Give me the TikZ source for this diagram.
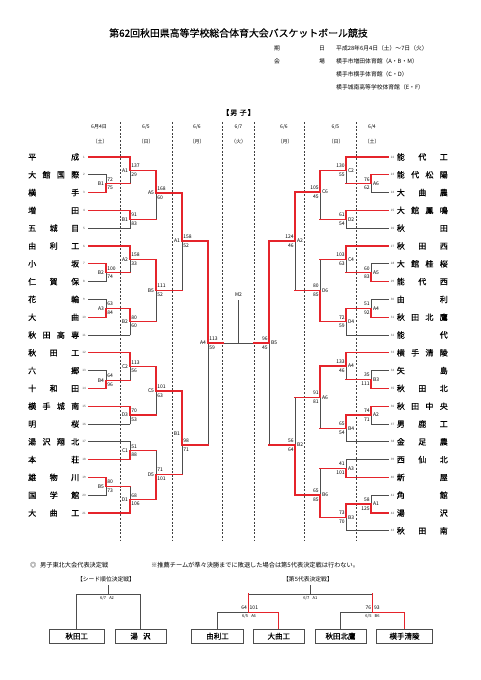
\documentclass[tikz,border=0pt]{standalone}
\usepackage{fontspec}
\setmainfont{Noto Sans CJK JP}
\newfontfamily\boldish{Noto Sans CJK JP}[FakeBold=0.5]
\definecolor{wred}{HTML}{E5242B}
\definecolor{lgray}{HTML}{4D4D4D}
\tikzset{
  win/.style={draw=wred,line width=1.25pt,line cap=rect},
  lose/.style={draw=lgray,line width=0.75pt,line cap=rect},
  sepline/.style={draw=black!75,line width=0.6pt,dash pattern=on 2pt off 1.6pt},
  team/.style={inner sep=0pt,font=\boldish\fontsize{8}{8}\selectfont},
  seedno/.style={inner sep=0pt,font=\fontsize{3}{3}\selectfont,text=black!70},
  mlab/.style={inner sep=0pt,font=\fontsize{5}{5}\selectfont},
  score/.style={inner sep=0pt,font=\fontsize{5}{5}\selectfont},
  head/.style={inner sep=0pt,font=\fontsize{5}{5}\selectfont},
  info/.style={inner sep=0pt,font=\fontsize{5.8}{5.8}\selectfont},
  note/.style={inner sep=0pt,anchor=west,font=\fontsize{6.2}{6.2}\selectfont},
  fbox/.style={draw=lgray,line width=0.8pt,minimum height=14.3pt,inner sep=0pt,fill=white,font=\boldish\fontsize{7.5}{7.5}\selectfont},
  small/.style={inner sep=0pt,font=\fontsize{4}{4}\selectfont},
}
% team on the left: index, y, name
\newcommand{\teamL}[3]{%
  \node[team,anchor=west] (nL#1) at (28,#2) {\makebox[51pt][l]{#3}};
  \node[seedno] (kL#1) at (84,#2) {#1};
  \coordinate (sL#1) at (88.5,#2);
}
\newcommand{\teamR}[3]{%
  \node[team,anchor=east] (nR#1) at (448,#2) {\makebox[51pt][l]{#3}};
  \node[seedno] (kR#1) at (392.5,#2) {#1};
  \coordinate (sR#1) at (388.5,#2);
}
% match: name, x, ytop, ybot, yout, winner(t/b), label, top score, bottom score
\newcommand{\matchL}[9]{%
  \coordinate (#1) at (#2,#5);
  \coordinate (#1t) at (#2,#3);
  \coordinate (#1b) at (#2,#4);
  \draw[lose] (#1t) -- (#1b);
  \if#6t\draw[win] (#1t) -- (#1);\else\draw[win] (#1b) -- (#1);\fi
  \node[mlab,anchor=east] (#1l) at ([xshift=-1.8pt]#1) {#7};
  \node[score,anchor=west] (#1u) at ([xshift=1.2pt,yshift=4.3pt]#1) {#8};
  \node[score,anchor=west] (#1d) at ([xshift=1.2pt,yshift=-4.5pt]#1) {#9};
}
\newcommand{\matchR}[9]{%
  \coordinate (#1) at (#2,#5);
  \coordinate (#1t) at (#2,#3);
  \coordinate (#1b) at (#2,#4);
  \draw[lose] (#1t) -- (#1b);
  \if#6t\draw[win] (#1t) -- (#1);\else\draw[win] (#1b) -- (#1);\fi
  \node[mlab,anchor=west] (#1l) at ([xshift=1.8pt]#1) {#7};
  \node[score,anchor=east] (#1u) at ([xshift=-1.2pt,yshift=4.3pt]#1) {#8};
  \node[score,anchor=east] (#1d) at ([xshift=-1.2pt,yshift=-4.5pt]#1) {#9};
}
\begin{document}
\begin{tikzpicture}[x=1pt,y=-1pt]
\fill[white] (0,0) rectangle (481,680);
\useasboundingbox (0,0) rectangle (481,680);

% title and info
\node[inner sep=0pt,font=\boldish\fontsize{9.9}{9.9}\selectfont] (title) at (238.5,33) {第62回秋田県高等学校総合体育大会バスケットボール競技};
\node[info] (k1) at (277,48) {期};
\node[info] (k2) at (322,48) {日};
\node[info,anchor=west] (v1) at (336,48) {平成28年6月4日（土）～7日（火）};
\node[info] (k3) at (277,61) {会};
\node[info] (k4) at (322,61) {場};
\node[info,anchor=west] (v2) at (336,61) {横手市増田体育館（A・B・M）};
\node[info,anchor=west] (v3) at (336,74) {横手市横手体育館（C・D）};
\node[info,anchor=west] (v4) at (336,87) {横手城南高等学校体育館（E・F）};
\node[inner sep=0pt,font=\boldish\fontsize{7}{7}\selectfont] (sex) at (238.5,112.5) {【\,男\,\,子\,】};

% column headings
\node[head] (d1) at (99,127) {6月4日};  \node[head] (w1) at (100,142) {（土）};
\node[head] (d2) at (146,127) {6/5};   \node[head] (w2) at (146,142) {（日）};
\node[head] (d3) at (197,127) {6/6};   \node[head] (w3) at (197,142) {（月）};
\node[head] (d4) at (238.5,127) {6/7}; \node[head] (w4) at (238.5,142) {（火）};
\node[head] (d5) at (284,127) {6/6};   \node[head] (w5) at (285,142) {（月）};
\node[head] (d6) at (335.5,127) {6/5}; \node[head] (w6) at (336,142) {（日）};
\node[head] (d7) at (372,127) {6/4};   \node[head] (w7) at (372,142) {（土）};

% separators
\foreach \sx in {120,172,222,254,304,356}
  \draw[sepline] (\sx,122) -- (\sx,540);

% teams left
\teamL{1}{157.0}{平\hfill 成}
\teamL{2}{174.8}{大\hfill 館\hfill 国\hfill 際}
\teamL{3}{192.6}{横\hfill 手}
\teamL{4}{210.4}{増\hfill 田}
\teamL{5}{228.2}{五\hfill 城\hfill 目}
\teamL{6}{246.0}{由\hfill 利\hfill 工}
\teamL{7}{263.8}{小\hfill 坂}
\teamL{8}{281.6}{仁\hfill 賀\hfill 保}
\teamL{9}{299.4}{花\hfill 輪}
\teamL{10}{317.2}{大\hfill 曲}
\teamL{11}{335.0}{秋\hfill 田\hfill 高\hfill 専}
\teamL{12}{352.8}{秋\hfill 田\hfill 工}
\teamL{13}{370.6}{六\hfill 郷}
\teamL{14}{388.4}{十\hfill 和\hfill 田}
\teamL{15}{406.2}{横\hfill 手\hfill 城\hfill 南}
\teamL{16}{424.0}{明\hfill 桜}
\teamL{17}{441.8}{湯\hfill 沢\hfill 翔\hfill 北}
\teamL{18}{459.6}{本\hfill 荘}
\teamL{19}{477.4}{雄\hfill 物\hfill 川}
\teamL{20}{495.2}{国\hfill 学\hfill 館}
\teamL{21}{513.0}{大\hfill 曲\hfill 工}

% teams right
\teamR{22}{157.0}{能\hfill 代\hfill 工}
\teamR{23}{174.8}{能\hfill 代\hfill 松\hfill 陽}
\teamR{24}{192.6}{大\hfill 曲\hfill 農}
\teamR{25}{210.4}{大\hfill 館\hfill 鳳\hfill 鳴}
\teamR{26}{228.2}{秋\hfill 田}
\teamR{27}{246.0}{秋\hfill 田\hfill 西}
\teamR{28}{263.8}{大\hfill 館\hfill 桂\hfill 桜}
\teamR{29}{281.6}{能\hfill 代\hfill 西}
\teamR{30}{299.4}{由\hfill 利}
\teamR{31}{317.2}{秋\hfill 田\hfill 北\hfill 鷹}
\teamR{32}{335.0}{能\hfill 代}
\teamR{33}{352.8}{横\hfill 手\hfill 清\hfill 陵}
\teamR{34}{370.6}{矢\hfill 島}
\teamR{35}{388.4}{秋\hfill 田\hfill 北}
\teamR{36}{406.2}{秋\hfill 田\hfill 中\hfill 央}
\teamR{37}{424.0}{男\hfill 鹿\hfill 工}
\teamR{38}{441.8}{金\hfill 足\hfill 農}
\teamR{39}{459.6}{西\hfill 仙\hfill 北}
\teamR{40}{477.4}{新\hfill 屋}
\teamR{41}{495.2}{角\hfill 館}
\teamR{42}{513.0}{湯\hfill 沢}
\teamR{43}{530.8}{秋\hfill 田\hfill 南}

% team lines left
\draw[win]  (sL1)  -- (sL1  -| 130,0);
\draw[lose] (sL2)  -- (sL2  -| 106,0);
\draw[win]  (sL3)  -- (sL3  -| 106,0);
\draw[win]  (sL4)  -- (sL4  -| 130,0);
\draw[lose] (sL5)  -- (sL5  -| 130,0);
\draw[win]  (sL6)  -- (sL6  -| 130,0);
\draw[win]  (sL7)  -- (sL7  -| 106,0);
\draw[lose] (sL8)  -- (sL8  -| 106,0);
\draw[lose] (sL9)  -- (sL9  -| 106,0);
\draw[win]  (sL10) -- (sL10 -| 106,0);
\draw[lose] (sL11) -- (sL11 -| 130,0);
\draw[win]  (sL12) -- (sL12 -| 130,0);
\draw[lose] (sL13) -- (sL13 -| 106,0);
\draw[win]  (sL14) -- (sL14 -| 106,0);
\draw[win]  (sL15) -- (sL15 -| 130,0);
\draw[lose] (sL16) -- (sL16 -| 130,0);
\draw[lose] (sL17) -- (sL17 -| 130,0);
\draw[win]  (sL18) -- (sL18 -| 130,0);
\draw[win]  (sL19) -- (sL19 -| 106,0);
\draw[lose] (sL20) -- (sL20 -| 106,0);
\draw[win]  (sL21) -- (sL21 -| 130,0);

% team lines right
\draw[win]  (sR22) -- (sR22 -| 346,0);
\draw[win]  (sR23) -- (sR23 -| 371,0);
\draw[lose] (sR24) -- (sR24 -| 371,0);
\draw[win]  (sR25) -- (sR25 -| 346,0);
\draw[lose] (sR26) -- (sR26 -| 346,0);
\draw[win]  (sR27) -- (sR27 -| 346,0);
\draw[lose] (sR28) -- (sR28 -| 371,0);
\draw[win]  (sR29) -- (sR29 -| 371,0);
\draw[lose] (sR30) -- (sR30 -| 371,0);
\draw[win]  (sR31) -- (sR31 -| 371,0);
\draw[lose] (sR32) -- (sR32 -| 346,0);
\draw[win]  (sR33) -- (sR33 -| 346,0);
\draw[lose] (sR34) -- (sR34 -| 371,0);
\draw[win]  (sR35) -- (sR35 -| 371,0);
\draw[win]  (sR36) -- (sR36 -| 371,0);
\draw[lose] (sR37) -- (sR37 -| 371,0);
\draw[lose] (sR38) -- (sR38 -| 346,0);
\draw[lose] (sR39) -- (sR39 -| 346,0);
\draw[win]  (sR40) -- (sR40 -| 346,0);
\draw[lose] (sR41) -- (sR41 -| 371,0);
\draw[win]  (sR42) -- (sR42 -| 371,0);
\draw[lose] (sR43) -- (sR43 -| 346,0);

% matches left
\matchL{lB1}{106}{174.8}{192.6}{183.7}{b}{B1}{72}{75}
\matchL{lB2}{106}{263.8}{281.6}{272.7}{t}{B2}{100}{74}
\matchL{lA3}{106}{299.4}{317.2}{308.3}{b}{A3}{63}{84}
\matchL{lB4}{106}{370.6}{388.4}{380.5}{b}{B4}{64}{96}
\matchL{lB5}{106}{477.4}{495.2}{486.3}{t}{B5}{80}{73}
\matchL{lA1}{130}{157.0}{183.7}{170.3}{t}{A1}{137}{29}
\matchL{lB1b}{130}{210.4}{228.2}{219.3}{t}{B1}{91}{83}
\matchL{lA2}{130}{246.0}{272.7}{259.3}{t}{A2}{158}{33}
\matchL{lB2b}{130}{308.3}{335.0}{321.7}{t}{B2}{80}{60}
\matchL{lC2}{130}{352.8}{380.5}{366.6}{t}{C2}{113}{56}
\matchL{lD3}{130}{406.2}{424.0}{415.1}{t}{D3}{70}{53}
\matchL{lC1}{130}{441.8}{459.6}{450.7}{b}{C1}{51}{88}
\matchL{lD1}{130}{486.3}{513.0}{499.7}{b}{D1}{68}{106}
\matchL{lA5}{156}{170.3}{219.3}{193}{t}{A5}{168}{60}
\matchL{lB5b}{156}{259.3}{321.7}{290.5}{t}{B5}{111}{52}
\matchL{lC5}{156}{366.6}{415.1}{391}{t}{C5}{101}{63}
\matchL{lD5}{156}{450.7}{499.7}{474.5}{b}{D5}{71}{101}
\matchL{lA1c}{182}{193}{290.5}{241}{t}{A1}{158}{52}
\matchL{lB1c}{182}{391}{474.5}{445}{t}{}{98}{71}
\node[mlab,anchor=east] (lB1cx) at (180.2,434) {B1};
\matchL{lA4}{208}{241}{445}{343}{t}{A4}{113}{59}

% matches right
\matchR{rA6}{371}{174.8}{192.6}{183.7}{t}{A6}{76}{62}
\matchR{rA5}{371}{263.8}{281.6}{272.7}{b}{A5}{60}{83}
\matchR{rA4}{371}{299.4}{317.2}{308.3}{b}{A4}{51}{92}
\matchR{rB3}{371}{370.6}{388.4}{379.5}{b}{B3}{35}{111}
\matchR{rA2}{371}{406.2}{424.0}{415.1}{t}{A2}{74}{71}
\matchR{rA1}{371}{495.2}{513.0}{504.1}{b}{A1}{58}{125}
\matchR{rC2}{346}{157.0}{183.7}{170.3}{t}{C2}{130}{55}
\matchR{rD2}{346}{210.4}{228.2}{219.3}{t}{D2}{61}{54}
\matchR{rC4}{346}{246.0}{272.7}{259.3}{t}{C4}{103}{63}
\matchR{rD4}{346}{308.3}{335.0}{321.7}{t}{D4}{72}{59}
\matchR{rA4b}{346}{352.8}{379.5}{366.1}{t}{A4}{133}{46}
\matchR{rB4}{346}{415.1}{441.8}{428.4}{t}{B4}{65}{54}
\matchR{rA3}{346}{459.6}{477.4}{468.5}{b}{A3}{41}{101}
\matchR{rB3b}{346}{504.1}{530.8}{517.5}{t}{B3}{73}{70}
\matchR{rC6}{320}{170.3}{219.3}{192}{t}{C6}{105}{45}
\matchR{rD6}{320}{259.3}{321.7}{290.5}{b}{D6}{80}{85}
\matchR{rA6b}{320}{366.1}{428.4}{397.3}{t}{A6}{91}{81}
\matchR{rB6}{320}{468.5}{517.5}{495}{b}{B6}{65}{85}
\matchR{rA2b}{295}{192}{290.5}{241}{t}{A2}{124}{46}
\matchR{rB2}{295}{397.3}{495}{445}{b}{B2}{56}{64}
\matchR{rB5}{269}{241}{445}{343}{t}{B5}{96}{45}

% match outputs
\foreach \c/\p in {lB1/lA1,lB2/lA2,lA3/lB2b,lB4/lC2,lB5/lD1,
                   lA1/lA5,lB1b/lA5,lA2/lB5b,lB2b/lB5b,lC2/lC5,lD3/lC5,lC1/lD5,lD1/lD5,
                   lA5/lA1c,lB5b/lA1c,lC5/lB1c,lD5/lB1c,lA1c/lA4,lB1c/lA4,
                   rA6/rC2,rA5/rC4,rA4/rD4,rB3/rA4b,rA2/rB4,rA1/rB3b,
                   rC2/rC6,rD2/rC6,rC4/rD6,rD4/rD6,rA4b/rA6b,rB4/rA6b,rA3/rB6,rB3b/rB6,
                   rC6/rA2b,rD6/rA2b,rA6b/rB2,rB6/rB2,rA2b/rB5,rB2/rB5}
  \draw[win] (\c) -- (\c -| \p);

% final
\coordinate (fL) at (223,343);
\coordinate (fR) at (254,343);
\coordinate (m2) at (238.5,343);
\coordinate (m2top) at (238.5,300);
\draw[lose] (fL) -- (fR);
\draw[lose] (m2top) -- (m2);
\draw[win] (lA4) -- (fL);
\draw[win] (fR) -- (rB5);
\node[mlab,anchor=south] (m2l) at ([yshift=3pt]m2top) {M2};

% bottom section
\node[note] (n1) at (30,565) {◎\hspace{0.6em}男子東北大会代表決定戦};
\node[note] (n2) at (151,565) {※推薦チームが準々決勝までに敗退した場合は第5代表決定戦は行わない。};
\node[info] (h1) at (106,579) {【シード順位決定戦】};
\node[info] (h2) at (308,579) {【第5代表決定戦】};

\node[fbox,minimum width=55pt] (bAk) at (76.7,636.2) {秋田工};
\node[fbox,minimum width=51pt] (bYu) at (140.5,636.2) {湯\hspace{0.7em}沢};
\node[fbox,minimum width=51.6pt] (bYr) at (217.5,636.2) {由利工};
\node[fbox,minimum width=51pt] (bOm) at (278.8,636.2) {大曲工};
\node[fbox,minimum width=51pt] (bKh) at (340.5,636.2) {秋田北鷹};
\node[fbox,minimum width=55.6pt] (bYs) at (404.5,636.2) {横手清陵};

% seed bracket
\coordinate (sdtop) at (108.6,585.5);
\coordinate (sdmid) at (108.6,594);
\draw[lose] (sdtop) -- (sdmid);
\draw[lose] (bAk.north) |- (sdmid);
\draw[lose] (bYu.north) |- (sdmid);
\node[small,anchor=north] (sdl) at (107,596) {6/7\hspace{0.8em}A2};

% fifth place bracket
\coordinate (ftop) at (310.3,585.5);
\coordinate (fmid) at (310.3,594);
\coordinate (fa) at (248.2,594);
\coordinate (fb) at (372.5,594);
\coordinate (fa2) at (248.2,612.3);
\coordinate (fb2) at (372.5,612.3);
\draw[lose] (ftop) -- (fmid);
\draw[lose] (fa) -- (fb);
\draw[lose] (bYr.north) |- (fa2);
\draw[lose] (bKh.north) |- (fb2);
\draw[win] (fa) -- (fa2);
\draw[win] (fb) -- (fb2);
\draw[win] (fa2) -| (bOm.north);
\draw[win] (fb2) -| (bYs.north);
\node[small,anchor=north] (fl0) at (310.3,596) {6/7\hspace{0.8em}A1};
\node[score,anchor=east] (fl1) at (247,607.5) {64};
\node[score,anchor=west] (fl2) at (249.5,607.5) {101};
\node[small,anchor=north] (fl3) at (249,614.5) {6/5\hspace{0.8em}A6};
\node[score,anchor=east] (fl4) at (371.3,607.5) {76};
\node[score,anchor=west] (fl5) at (373.8,607.5) {93};
\node[small,anchor=north] (fl6) at (372.5,614.5) {6/5\hspace{0.8em}B6};
\end{tikzpicture}
\end{document}
